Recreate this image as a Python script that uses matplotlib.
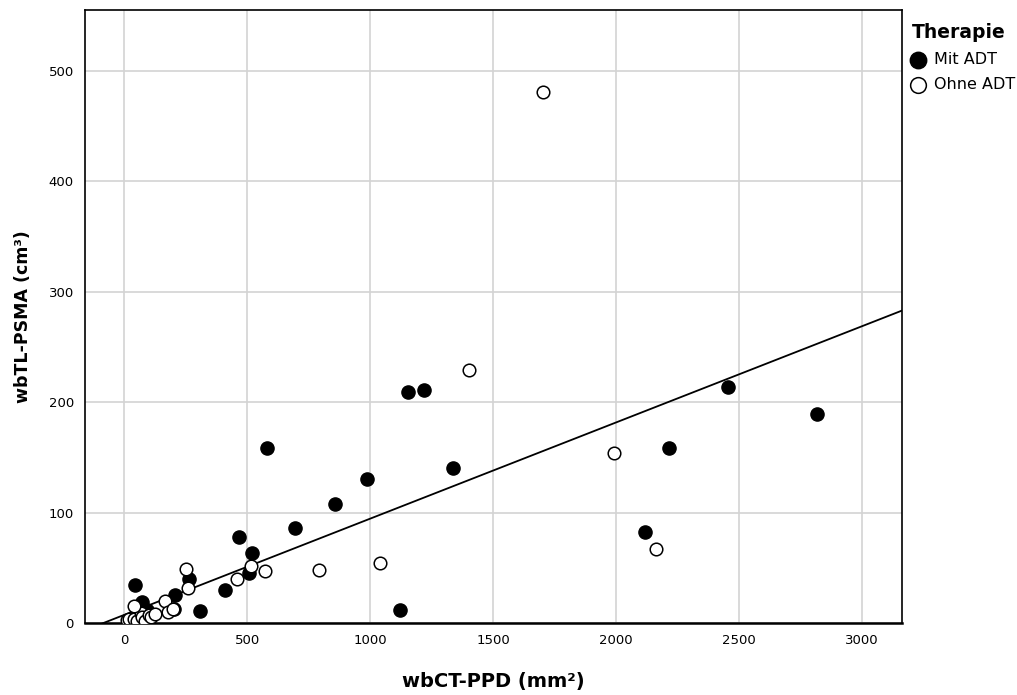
import numpy as np
import matplotlib
matplotlib.use("Agg")
import matplotlib.pyplot as plt

plt.rcParams["font.family"] = ["DejaVu Sans"]

# Mit ADT (gefuellte Kreise)
mit_x = [42, 72, 91, 200, 204, 261, 309, 411, 468, 508, 520, 581, 694, 856,
         986, 1119, 1152, 1217, 1338, 2119, 2217, 2455, 2817]
mit_y = [34, 19, 12, 13, 25, 40, 11, 30, 78, 45, 63, 158, 86, 108,
         130, 12, 209, 211, 140, 82, 158, 214, 189]

# Ohne ADT (offene Kreise)
ohne_x = [10, 18, 38, 51, 67, 71, 85, 99, 107, 125, 38, 164, 177, 196,
          249, 257, 459, 516, 572, 791, 1040, 1403, 1703, 1991, 2164]
ohne_y = [3, 4, 4, 2, 9, 5, 2, 7, 5, 8, 15, 20, 10, 13,
          49, 32, 40, 52, 47, 48, 54, 229, 481, 154, 67]

# Anpassungslinie (gesamt)
fit_intercept = 7.4
fit_slope = 0.0871

xticks = [0, 500, 1000, 1500, 2000, 2500, 3000]
yticks = [0, 100, 200, 300, 400, 500]

fig = plt.figure(figsize=(10.17, 6.95), dpi=100)
ax = fig.add_axes([0.0836, 0.1036, 0.8034, 0.882])

ax.set_xlim(-160, 3163)
ax.set_ylim(0, 555)
ax.set_xticks(xticks)
ax.set_yticks(yticks)
ax.grid(True, color="#d3d3d3", linewidth=1.2)
ax.set_axisbelow(True)
ax.tick_params(length=0, labelsize=9.5, pad=8)

xl = np.array([-160, 3163])
ax.plot(xl, fit_intercept + fit_slope * xl, color="black", linewidth=1.3, zorder=2)

ax.scatter(mit_x, mit_y, s=90, c="black", edgecolors="black", linewidths=1,
           label="Mit ADT", zorder=3)
ax.scatter(ohne_x, ohne_y, s=82, c="white", edgecolors="black", linewidths=1.1,
           label="Ohne ADT", zorder=3)

for sp in ax.spines.values():
    sp.set_color("black")
    sp.set_linewidth(1.2)
ax.spines["bottom"].set_linewidth(1.8)

ax.set_xlabel("wbCT-PPD (mm²)", fontsize=14, fontweight="bold", labelpad=18)
ax.set_ylabel("wbTL-PSMA (cm³)", fontsize=12.5, fontweight="bold", labelpad=12)

leg = ax.legend(loc="upper left", bbox_to_anchor=(0.988, 0.995), frameon=False,
                title="Therapie", fontsize=11.5, handletextpad=0.0,
                borderaxespad=0.2, labelspacing=0.65, markerscale=1.25,
                title_fontproperties={"weight": "bold", "size": 13.5})

plt.savefig("out.png", dpi=100)
